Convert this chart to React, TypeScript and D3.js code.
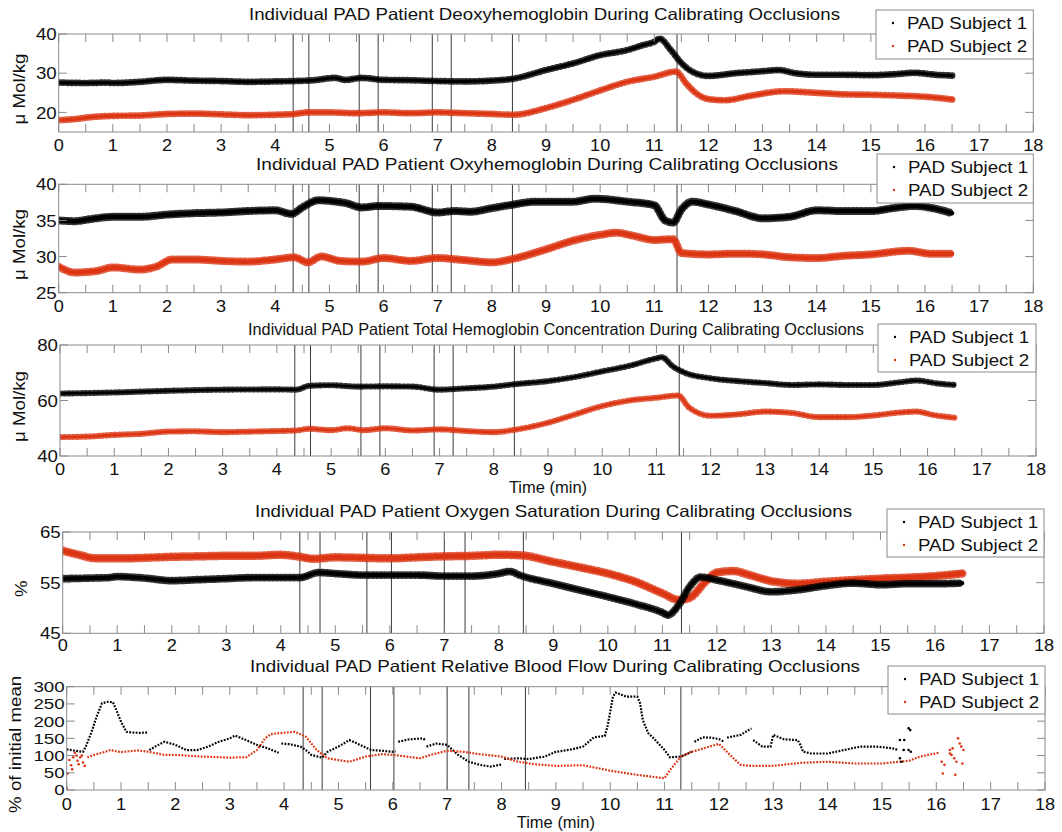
import React from "react";
import * as d3 from "d3";

type P = [number, number];

const FONT = "'Liberation Sans', Arial, Helvetica, sans-serif";
const seriesNames = ["PAD Subject 1", "PAD Subject 2"];
const seriesColors = ["#000000", "#dc3513"];
const xTickValues = d3.range(0, 19, 1);
const xMinorTickValues = d3.range(0, 18.5, 0.5);

// ---- Panel 1: Deoxyhemoglobin (µMol/kg)
const deoxyS1: P[] = [[0,27.6],[0.5,27.5],[0.9,27.6],[1.0,27.5],[1.5,27.8],[2.0,28.3],[2.5,28.1],[3.0,28.0],[3.5,27.8],[4.0,27.9],[4.35,28.0],[4.7,28.2],[5.1,28.8],[5.3,28.3],[5.6,28.8],[6.0,28.3],[6.5,28.2],[7.0,28.0],[7.5,27.9],[8.0,28.1],[8.4,28.6],[9.0,30.8],[9.5,32.5],[10.0,34.6],[10.5,35.9],[10.8,37.2],[11.0,38.0],[11.1,38.8],[11.3,36.0],[11.5,32.6],[11.7,30.4],[12.0,29.3],[12.5,30.0],[13.0,30.5],[13.3,30.8],[13.6,30.0],[14.0,29.6],[14.5,29.6],[15.0,29.5],[15.5,29.8],[15.8,30.1],[16.2,29.6],[16.5,29.4]];
const deoxyS2: P[] = [[0,18.0],[0.3,18.3],[0.6,18.8],[1.0,19.1],[1.5,19.2],[2.0,19.6],[2.5,19.7],[3.0,19.5],[3.5,19.3],[4.0,19.4],[4.35,19.6],[4.6,20.0],[5.0,20.0],[5.5,19.8],[6.0,20.0],[6.5,19.8],[7.0,20.0],[7.5,19.8],[8.0,19.6],[8.4,19.4],[9.0,21.1],[9.5,23.2],[10.0,25.6],[10.5,27.8],[11.0,29.1],[11.4,30.4],[11.6,27.2],[11.8,24.6],[12.0,23.4],[12.3,23.1],[12.8,24.3],[13.4,25.4],[14.0,25.0],[14.5,24.6],[15.0,24.5],[15.5,24.3],[16.0,24.0],[16.5,23.3]];

// ---- Panel 2: Oxyhemoglobin
const oxyS1: P[] = [[0,35.0],[0.3,34.9],[0.6,35.2],[1.0,35.5],[1.5,35.5],[2.0,35.8],[2.5,36.0],[3.0,36.1],[3.5,36.3],[4.0,36.4],[4.3,35.9],[4.5,36.8],[4.8,37.8],[5.0,37.7],[5.3,37.4],[5.6,36.8],[5.9,37.0],[6.5,36.9],[7.0,36.1],[7.3,36.3],[7.6,36.2],[8.0,36.7],[8.4,37.2],[8.8,37.6],[9.5,37.6],[9.9,38.0],[10.5,37.6],[11.0,37.1],[11.2,35.0],[11.35,34.7],[11.5,36.5],[11.7,37.6],[12.0,37.2],[12.5,36.3],[13.0,35.3],[13.5,35.5],[14.0,36.4],[14.5,36.3],[15.0,36.3],[15.5,36.8],[15.8,37.0],[16.2,36.6],[16.5,36.0]];
const oxyS2: P[] = [[0,28.6],[0.3,27.8],[0.7,28.0],[1.0,28.5],[1.5,28.2],[1.8,28.6],[2.1,29.6],[2.5,29.6],[3.0,29.4],[3.5,29.3],[4.0,29.6],[4.35,29.9],[4.6,29.2],[4.85,30.0],[5.2,29.4],[5.6,29.3],[6.0,29.8],[6.5,29.4],[7.0,29.8],[7.5,29.5],[8.0,29.2],[8.4,29.7],[9.0,31.0],[9.5,32.2],[10.0,33.0],[10.3,33.3],[10.6,32.9],[11.0,32.3],[11.35,32.4],[11.5,30.5],[12.0,30.3],[12.5,30.4],[13.0,30.3],[13.5,29.9],[14.0,29.8],[14.5,30.1],[15.0,30.3],[15.7,30.8],[16.1,30.4],[16.5,30.4]];

// ---- Panel 3: Total hemoglobin
const totalS1: P[] = [[0,62.5],[1.0,62.9],[2.0,63.5],[3.0,63.9],[4.0,64.0],[4.35,63.9],[4.6,65.3],[5.0,65.5],[5.5,65.0],[6.0,65.1],[6.5,65.0],[7.0,63.9],[7.4,64.3],[8.0,65.0],[8.4,65.9],[9.0,67.0],[9.5,68.5],[10.0,70.5],[10.5,72.5],[11.0,75.2],[11.1,75.6],[11.3,72.3],[11.5,70.2],[12.0,68.0],[12.5,67.0],[13.0,66.3],[13.5,65.6],[14.0,65.8],[14.5,65.6],[15.0,65.6],[15.5,66.6],[15.8,67.2],[16.2,66.1],[16.5,65.6]];
const totalS2: P[] = [[0,46.8],[0.5,47.0],[1.0,47.6],[1.5,48.0],[2.0,48.8],[2.5,48.9],[3.0,48.6],[3.5,48.8],[4.0,49.0],[4.35,49.2],[4.6,49.8],[5.0,49.3],[5.3,50.0],[5.6,49.3],[6.0,50.0],[6.5,49.2],[7.0,49.6],[7.5,49.0],[8.0,48.6],[8.4,49.5],[9.0,52.0],[9.5,55.0],[10.0,58.0],[10.5,60.0],[11.0,61.0],[11.4,61.8],[11.6,57.5],[12.0,54.5],[12.5,55.0],[13.0,56.0],[13.5,55.5],[14.0,54.0],[14.5,54.0],[15.0,54.6],[15.5,55.7],[15.8,56.0],[16.1,54.8],[16.5,53.8]];

// ---- Panel 4: Oxygen saturation (%)
const satS1: P[] = [[0,55.8],[0.5,55.9],[0.85,56.0],[1.0,56.2],[1.5,55.9],[2.0,55.4],[2.5,55.6],[3.0,55.8],[3.5,56.0],[4.0,56.0],[4.35,56.0],[4.7,57.0],[5.0,56.8],[5.5,56.5],[6.0,56.5],[6.5,56.5],[7.0,56.3],[7.5,56.3],[8.0,56.8],[8.2,57.2],[8.4,56.4],[9.0,54.8],[9.5,53.5],[10.0,52.2],[10.5,50.8],[11.0,49.1],[11.1,48.6],[11.3,50.6],[11.5,54.2],[11.7,56.1],[12.0,55.5],[12.5,54.3],[13.0,53.2],[13.5,53.6],[14.0,54.4],[14.5,54.9],[15.0,54.6],[15.5,54.8],[16.0,54.8],[16.5,54.9]];
const satS2: P[] = [[0,61.3],[0.3,60.5],[0.6,59.8],[1.0,59.8],[1.5,59.9],[2.0,60.1],[2.5,60.2],[3.0,60.3],[3.5,60.3],[4.0,60.5],[4.35,60.1],[4.6,59.7],[5.0,60.0],[5.5,59.9],[6.0,59.8],[6.5,60.0],[7.0,60.2],[7.5,60.3],[8.0,60.5],[8.4,60.4],[9.0,59.1],[9.5,58.0],[10.0,56.8],[10.5,55.2],[11.0,52.9],[11.3,51.6],[11.5,52.0],[11.8,55.3],[12.0,57.0],[12.3,57.3],[12.6,56.5],[13.0,55.3],[13.5,54.8],[14.0,55.2],[14.5,55.5],[15.0,55.8],[15.5,56.0],[16.0,56.3],[16.5,56.8]];

// ---- Panel 5: Relative blood flow (% of initial mean)
const flowS1Segments: P[][] = [
  [[0,118],[0.15,114],[0.3,111],[0.35,126],[0.45,165],[0.55,213],[0.65,252],[0.75,256],[0.85,255],[0.9,237],[1.0,198],[1.1,169],[1.2,167],[1.35,166],[1.5,167]],
  [[1.52,116],[1.65,128],[1.8,140],[2.0,131],[2.2,116],[2.4,116],[2.6,126],[2.8,140],[3.0,150],[3.1,158],[3.3,145],[3.5,131],[3.7,121],[3.9,108]],
  [[3.95,135],[4.1,133],[4.3,126],[4.4,116],[4.5,102],[4.7,94],[4.8,111],[5.0,126],[5.2,145],[5.4,131],[5.6,116],[5.8,114],[6.0,111],[6.05,112]],
  [[6.1,140],[6.3,147],[6.55,150],[6.6,145]],
  [[6.62,126],[6.8,135],[7.0,131],[7.2,102],[7.4,82],[7.6,73],[7.8,68],[8.0,74]],
  [[8.05,90],[8.3,92],[8.5,90],[8.8,97],[9.0,111],[9.3,118],[9.5,126],[9.7,153],[9.9,157],[9.95,184],[10.0,227],[10.05,271],[10.1,283],[10.3,271],[10.5,271],[10.55,252],[10.6,203],[10.7,165],[10.8,150],[11.0,116],[11.1,95],[11.3,97],[11.5,111]],
  [[11.55,140],[11.7,153],[11.85,152],[12.0,148],[12.1,140]],
  [[12.15,152],[12.4,160],[12.6,179]],
  [[12.63,145],[12.8,126],[12.95,126],[13.0,160],[13.2,147],[13.45,145],[13.5,131],[13.55,111],[13.7,106],[14.0,106],[14.3,116],[14.6,126],[14.9,126],[15.2,121],[15.3,116]],
];
const flowS1Scatter: P[] = [[15.33,145],[15.41,145],[15.49,179],[15.52,174],[15.33,92],[15.36,82],[15.4,116],[15.49,116],[15.53,111]];
const flowS2Segments: P[][] = [
  [[0.38,95],[0.5,102],[0.65,108],[0.8,116],[1.0,110],[1.3,115],[1.5,111],[1.8,102],[2.0,102],[2.5,97],[3.0,94],[3.3,95],[3.5,116],[3.65,150],[3.75,162],[3.9,165],[4.2,169],[4.4,155],[4.6,116],[4.8,92],[5.0,87],[5.2,82],[5.5,97],[5.8,104],[6.0,102],[6.5,92],[6.7,102],[7.0,114],[7.3,111],[7.5,106],[8.0,97],[8.3,82],[8.6,75],[9.0,70],[9.5,72],[10.0,56],[10.5,44],[11.0,34],[11.1,58],[11.3,97],[11.5,111],[12.0,134],[12.2,102],[12.4,73],[12.6,70],[13.0,70],[13.5,79],[14.0,82],[14.5,77],[15.0,77],[15.5,85],[15.7,97],[16.05,108]],
];
const flowS2Scatter: P[] = [[0.0,5],[0.02,48],[0.05,87],[0.08,72],[0.1,60],[0.12,95],[0.15,108],[0.18,100],[0.2,85],[0.22,75],[0.25,95],[0.28,100],[0.3,80],[0.33,70],[16.1,82],[16.12,48],[16.15,73],[16.25,116],[16.28,102],[16.3,121],[16.33,92],[16.35,44],[16.37,82],[16.4,150],[16.43,135],[16.46,126],[16.48,77],[16.5,116],[16.25,106]];

// occlusion markers (min)
const occlusionsA = [4.33, 4.62, 5.55, 5.9, 6.9, 7.25, 8.38, 11.42];
const occlusionsB = [4.35, 4.72, 5.58, 6.03, 7.0, 7.38, 8.45, 11.35];
const occlusionsC = [4.35, 4.70, 5.59, 6.02, 7.0, 7.40, 8.44, 11.3];

const titles = [
  "Individual PAD Patient Deoxyhemoglobin During Calibrating Occlusions",
  "Individual PAD Patient Oxyhemoglobin During Calibrating Occlusions",
  "Individual PAD Patient Total Hemoglobin Concentration During Calibrating Occlusions",
  "Individual PAD Patient Oxygen Saturation During Calibrating Occlusions",
  "Individual PAD Patient Relative Blood Flow During Calibrating Occlusions",
];

interface PanelCfg {
  title: string;
  titleSpan: [number, number];
  left: number; right: number; top: number; bottom: number;
  yDomain: [number, number];
  yTicks: number[];
  yTickFont: number;
  yLabel: string;
  yLabelX: number;
  xLabelBase: number;
  titleBase: number;
  timeBase?: number;
  legend: { x: number; y: number; w: number; h: number };
  occl: number[];
  bands?: { data: P[]; width: number; color: number }[];
  segs?: P[][][];
  scatter?: P[][];
}

const panels: PanelCfg[] = [
  { title: titles[0], titleSpan: [249, 840], left: 58.7, right: 1033.3, top: 34, bottom: 132, yDomain: [15, 40], yTicks: [20, 30, 40], yTickFont: 17, yLabel: "\u03bc Mol/kg", yLabelX: 25, xLabelBase: 150.5, titleBase: 19.5, legend: { x: 876, y: 10, w: 157.3, h: 49 }, occl: occlusionsA,
    bands: [{ data: deoxyS1, width: 3.2, color: 0 }, { data: deoxyS2, width: 3.2, color: 1 }] },
  { title: titles[1], titleSpan: [256, 838], left: 58.7, right: 1033.3, top: 184.3, bottom: 292.7, yDomain: [25, 40], yTicks: [25, 30, 35, 40], yTickFont: 17, yLabel: "\u03bc Mol/kg", yLabelX: 25, xLabelBase: 311.5, titleBase: 169.5, legend: { x: 877, y: 154, w: 156.3, h: 49 }, occl: occlusionsA,
    bands: [{ data: oxyS1, width: 4.5, color: 0 }, { data: oxyS2, width: 4.5, color: 1 }] },
  { title: titles[2], titleSpan: [248, 864], left: 60, right: 1036, top: 345, bottom: 456, yDomain: [40, 80], yTicks: [40, 60, 80], yTickFont: 17, yLabel: "\u03bc Mol/kg", yLabelX: 25, xLabelBase: 475, titleBase: 335, timeBase: 493, legend: { x: 878, y: 324, w: 158, h: 48 }, occl: occlusionsA,
    bands: [{ data: totalS1, width: 2.6, color: 0 }, { data: totalS2, width: 2.6, color: 1 }] },
  { title: titles[3], titleSpan: [255, 852], left: 62.7, right: 1044, top: 532, bottom: 633.3, yDomain: [45, 65], yTicks: [45, 55, 65], yTickFont: 17, yLabel: "%", yLabelX: 27, xLabelBase: 651, titleBase: 517, legend: { x: 887, y: 509, w: 157, h: 48 }, occl: occlusionsB,
    bands: [{ data: satS2, width: 5, color: 1 }, { data: satS1, width: 4.2, color: 0 }] },
  { title: titles[4], titleSpan: [250, 860], left: 66.7, right: 1045, top: 686.7, bottom: 790, yDomain: [0, 300], yTicks: [0, 50, 100, 150, 200, 250, 300], yTickFont: 15, yLabel: "% of initial mean", yLabelX: 21, xLabelBase: 810, titleBase: 672, timeBase: 828, legend: { x: 888, y: 666, w: 157, h: 48 }, occl: occlusionsC,
    segs: [flowS1Segments, flowS2Segments], scatter: [flowS1Scatter, flowS2Scatter] },
];

const AXIS = "#8a8a8a";
const TICK = 8;
const SX = 1.1;

function T({ x, y, size, anchor = "start", sx = SX, rotate = 0, children }: { x: number; y: number; size: number; anchor?: string; sx?: number; rotate?: number; children: React.ReactNode }) {
  return (
    <text
      transform={`translate(${x},${y})${rotate ? ` rotate(${rotate})` : ""} scale(${sx},1)`}
      textAnchor={anchor as any}
      fontSize={size}
      fill="#111"
    >
      {children}
    </text>
  );
}

function Panel({ cfg, idx }: { cfg: PanelCfg; idx: number }) {
  const x = d3.scaleLinear().domain([0, 18]).range([cfg.left, cfg.right]);
  const y = d3.scaleLinear().domain(cfg.yDomain).range([cfg.bottom, cfg.top]);
  const line = d3.line<P>().x((d) => x(d[0])).y((d) => y(d[1])).curve(d3.curveMonotoneX);
  const lineLin = d3.line<P>().x((d) => x(d[0])).y((d) => y(d[1]));
  const cx = (cfg.left + cfg.right) / 2;
  const cy = (cfg.top + cfg.bottom) / 2;
  const clipId = `clip${idx}`;
  return (
    <g>
      <defs>
        <clipPath id={clipId}>
          <rect x={cfg.left} y={cfg.top} width={cfg.right - cfg.left} height={cfg.bottom - cfg.top} />
        </clipPath>
      </defs>
      <text
        x={cfg.titleSpan[0]}
        y={cfg.titleBase}
        fontSize={16.5}
        fill="#111"
        textLength={cfg.titleSpan[1] - cfg.titleSpan[0]}
        lengthAdjust="spacingAndGlyphs"
      >
        {cfg.title}
      </text>
      {cfg.occl.map((t, i) => (
        <line key={"o" + i} x1={x(t)} x2={x(t)} y1={cfg.top} y2={cfg.bottom} stroke="#3a3a3a" strokeWidth={1} />
      ))}
      <g clipPath={`url(#${clipId})`}>
        {cfg.bands &&
          cfg.bands.map((b, i) => {
            const col = seriesColors[b.color];
            const d = line(b.data) || "";
            return (
              <g key={"b" + i}>
                <path d={d} fill="none" stroke={col} strokeWidth={b.width + 3.5} strokeDasharray="1 3.2" strokeLinecap="round" opacity={0.8} />
                <path d={d} fill="none" stroke={col} strokeWidth={b.width} strokeLinejoin="round" strokeLinecap="round" />
              </g>
            );
          })}
        {cfg.segs &&
          cfg.segs.map((segList, si) =>
            segList.map((seg, k) => (
              <path key={`s${si}-${k}`} d={lineLin(seg) || ""} fill="none" stroke={seriesColors[si]} strokeWidth={2.2} strokeDasharray="1.8 1.4" />
            ))
          )}
        {cfg.scatter &&
          cfg.scatter.map((pts, si) =>
            pts.map((p, k) => <circle key={`c${si}-${k}`} cx={x(p[0])} cy={y(p[1])} r={1.3} fill={seriesColors[si]} />)
          )}
      </g>
      <rect x={cfg.left} y={cfg.top} width={cfg.right - cfg.left} height={cfg.bottom - cfg.top} fill="none" stroke={AXIS} strokeWidth={1} />
      {xMinorTickValues.map((t, i) => (
        <g key={"xt" + i}>
          <line x1={x(t)} x2={x(t)} y1={cfg.bottom} y2={cfg.bottom - TICK} stroke={AXIS} />
          <line x1={x(t)} x2={x(t)} y1={cfg.top} y2={cfg.top + TICK} stroke={AXIS} />
        </g>
      ))}
      {cfg.yTicks.map((v, i) => (
        <g key={"yt" + i}>
          <line x1={cfg.left} x2={cfg.left + TICK} y1={y(v)} y2={y(v)} stroke={AXIS} />
          <line x1={cfg.right} x2={cfg.right - TICK} y1={y(v)} y2={y(v)} stroke={AXIS} />
          <T x={cfg.left - 2} y={y(v) + cfg.yTickFont * 0.36} size={cfg.yTickFont} anchor="end" sx={cfg.yTickFont < 16 ? 1.25 : SX}>{v}</T>
        </g>
      ))}
      {xTickValues.map((t, i) => (
        <T key={"xl" + i} x={x(t)} y={cfg.xLabelBase} size={16.5} anchor="middle">{t}</T>
      ))}
      <T x={cfg.yLabelX} y={cy + 6} size={17} anchor="middle" rotate={-90}>{cfg.yLabel}</T>
      {cfg.timeBase !== undefined && (
        <T x={cx} y={cfg.timeBase} size={16.5} anchor="middle" sx={1.0}>Time (min)</T>
      )}
      <g>
        <rect x={cfg.legend.x} y={cfg.legend.y} width={cfg.legend.w} height={cfg.legend.h} fill="#fff" stroke={AXIS} strokeWidth={1} />
        {seriesNames.map((n, i) => (
          <g key={"lg" + i}>
            <circle cx={cfg.legend.x + 17} cy={cfg.legend.y + 13 + i * 23} r={1.2} fill={seriesColors[i]} />
            <T x={cfg.legend.x + 31} y={cfg.legend.y + 19 + i * 23} size={17}>{n}</T>
          </g>
        ))}
      </g>
    </g>
  );
}

export default function App() {
  return (
    <svg
      width={1062}
      height={832}
      viewBox="0 0 1062 832"
      style={{ position: "absolute", left: 0, top: 0, background: "#fff", fontFamily: FONT }}
    >
      <rect x={0} y={0} width={1062} height={832} fill="#fff" />
      {panels.map((p, i) => (
        <Panel key={i} cfg={p} idx={i} />
      ))}
    </svg>
  );
}
